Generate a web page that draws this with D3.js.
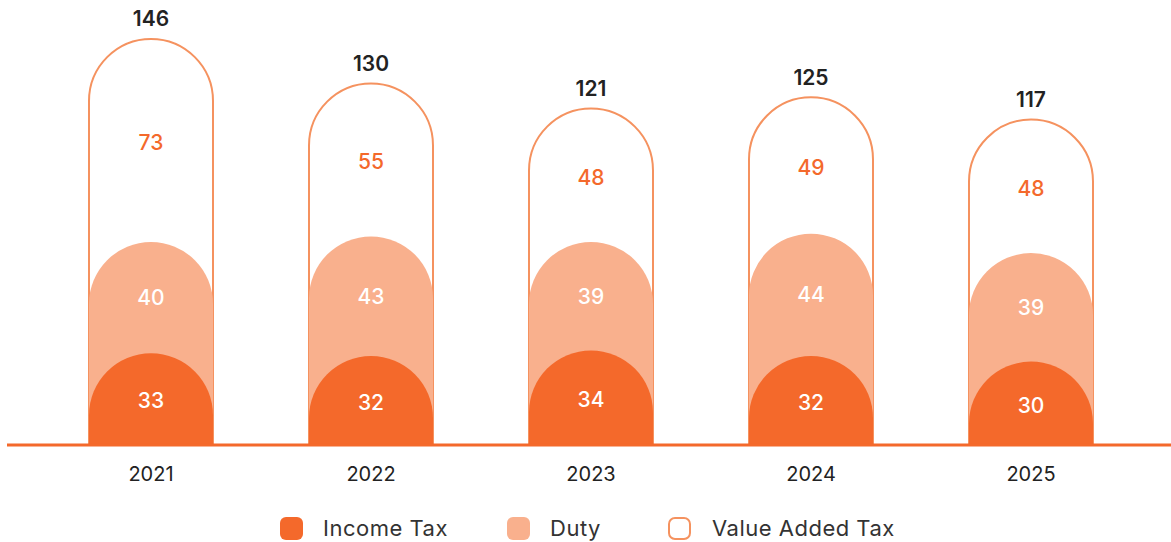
<!DOCTYPE html>
<html lang="en">
<head>
<meta charset="UTF-8">
<title>Tax revenue by year</title>
<script src="https://d3js.org/d3.v7.min.js"></script>
<style>
  body { margin: 0; background: #fff; }
  svg { display: block; font-family: "Inter", "Open Sans", sans-serif; }
</style>
</head>
<body>
<div id="chart"></div>
<script>
// data
const years = ["2021", "2022", "2023", "2024", "2025"];
const incomeTax = [33, 32, 34, 32, 30];
const duty = [40, 43, 39, 44, 39];
const vat = [73, 55, 48, 49, 48];
const totals = [146, 130, 121, 125, 117];
const seriesNames = ["Income Tax", "Duty", "Value Added Tax"];

const width = 1171, height = 542;
const baseY = 445;
const barW = 124;
const r = barW / 2;

const cIncome = "#f4692b", cDuty = "#f9b08d", cVat = "#f5925f";

const svg = d3.select("#chart").append("svg")
    .attr("width", width).attr("height", height);

const x = d3.scalePoint().domain(years).range([151, 1031]);
const y = d3.scaleLinear().domain([0, 160]).range([baseY, 0]);

// rect with a rounded (half circle) top
function capsule(cx, top, closed) {
  const x0 = cx - r, x1 = cx + r;
  let p = `M${x0},${baseY} L${x0},${top + r} A${r},${r} 0 0 1 ${x1},${top + r} L${x1},${baseY}`;
  return closed ? p + "Z" : p;
}

const rows = years.map((yr, i) => ({
  year: yr, inc: incomeTax[i], duty: duty[i], vat: vat[i], total: totals[i]
}));

// VAT outline (full height)
svg.selectAll(".vat").data(rows).enter().append("path")
    .attr("d", d => capsule(x(d.year), y(d.inc + d.duty + d.vat), false))
    .attr("fill", "none").attr("stroke", cVat).attr("stroke-width", 2);

// Duty
svg.selectAll(".duty").data(rows).enter().append("path")
    .attr("d", d => capsule(x(d.year), y(d.inc + d.duty), true))
    .attr("fill", cDuty);

// Income tax
svg.selectAll(".inc").data(rows).enter().append("path")
    .attr("d", d => capsule(x(d.year), y(d.inc), true))
    .attr("fill", cIncome);

// baseline
svg.append("line")
    .attr("x1", 7).attr("x2", width).attr("y1", baseY).attr("y2", baseY)
    .attr("stroke", cIncome).attr("stroke-width", 3);

const lbl = svg.append("g").attr("font-size", 21).attr("text-anchor", "middle")
    .attr("font-weight", 500);

lbl.selectAll(".li").data(rows).enter().append("text")
    .attr("x", d => x(d.year)).attr("y", d => (y(0) + y(d.inc)) / 2 + 2)
    .attr("dy", "0.35em").attr("fill", "#fff")
    .text(d => d.inc);

lbl.selectAll(".ld").data(rows).enter().append("text")
    .attr("x", d => x(d.year)).attr("y", d => (y(d.inc) + y(d.inc + d.duty)) / 2)
    .attr("dy", "0.35em").attr("fill", "#fff")
    .text(d => d.duty);

lbl.selectAll(".lv").data(rows).enter().append("text")
    .attr("x", d => x(d.year)).attr("y", d => (y(d.inc + d.duty) + y(d.inc + d.duty + d.vat)) / 2 + 2)
    .attr("dy", "0.35em").attr("fill", cIncome)
    .text(d => d.vat);

lbl.selectAll(".lt").data(rows).enter().append("text")
    .attr("x", d => x(d.year)).attr("y", d => y(d.inc + d.duty + d.vat) - 20)
    .attr("dy", "0.35em").attr("fill", "#222").attr("font-weight", 600)
    .text(d => d.total);

// year axis labels
lbl.selectAll(".yr").data(years).enter().append("text")
    .attr("x", d => x(d)).attr("y", 474)
    .attr("dy", "0.35em").attr("fill", "#222").attr("font-weight", 400)
    .attr("font-size", 20)
    .text(d => d);

// legend
const legIcon = [280, 507, 668];
const legText = [323, 550, 712];
const leg = svg.append("g");
seriesNames.forEach((name, i) => {
  const g = leg.append("g").attr("transform", `translate(0,517)`);
  if (i < 2) {
    g.append("rect").attr("x", legIcon[i]).attr("width", 23).attr("height", 23).attr("rx", 6)
        .attr("fill", i === 0 ? cIncome : cDuty);
  } else {
    g.append("rect").attr("x", legIcon[i] + 1).attr("y", 1).attr("width", 21).attr("height", 21).attr("rx", 6)
        .attr("fill", "none").attr("stroke", cVat).attr("stroke-width", 2);
  }
  g.append("text").attr("x", legText[i]).attr("y", 11.5)
      .attr("dy", "0.35em").attr("font-size", 22).attr("letter-spacing", 0.5)
      .attr("fill", "#333")
      .text(name);
});
</script>
</body>
</html>
